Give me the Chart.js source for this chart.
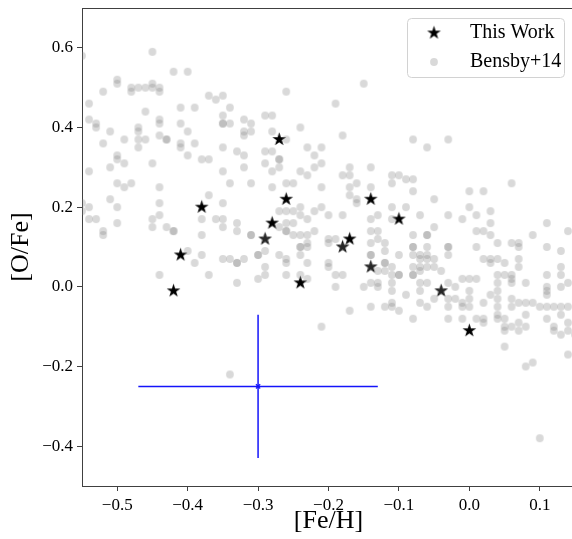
<!DOCTYPE html>
<html>
<head>
<meta charset="utf-8">
<script src="https://cdn.jsdelivr.net/npm/chart.js@4.4.1/dist/chart.umd.min.js"></script>
<style>
html, body { margin: 0; padding: 0; background: #fff; overflow: hidden; }
#wrap { width: 575px; height: 539px; }
</style>
</head>
<body>
<div id="wrap"><canvas id="c"></canvas></div>
<script>
// axis limits and tick labels
const feRange = [-0.55, 0.15];
const oRange = [-0.5, 0.7];
const feTicks = [-0.5, -0.4, -0.3, -0.2, -0.1, 0.0, 0.1];
const oTicks = [-0.4, -0.2, 0.0, 0.2, 0.4, 0.6];

// "This Work" stars
const thisWorkFe = [-0.42, -0.41, -0.38, -0.29, -0.28, -0.27, -0.26, -0.24, -0.18, -0.17, -0.14, -0.14, -0.10, -0.04, 0.00];
const thisWorkO  = [-0.01, 0.08, 0.20, 0.12, 0.16, 0.37, 0.22, 0.01, 0.10, 0.12, 0.22, 0.05, 0.17, -0.01, -0.11];

// typical error bar
const errFe = -0.30, errO = -0.25;
const errFeSigma = 0.17, errOSigma = 0.18;

// Bensby+14 sample, [Fe/H, O/Fe]
const bensbyFeO = [
  [-0.55,0.58],[-0.45,0.59],[-0.42,0.54],[-0.40,0.54],[-0.50,0.52],[-0.50,0.51],[-0.52,0.49],[-0.48,0.50],[-0.48,0.49],[-0.47,0.50],
  [-0.46,0.50],[-0.45,0.51],[-0.45,0.50],[-0.44,0.50],[-0.44,0.49],[-0.37,0.48],[-0.36,0.47],[-0.35,0.48],[-0.54,0.46],[-0.46,0.44],
  [-0.41,0.45],[-0.39,0.45],[-0.34,0.45],[-0.35,0.43],[-0.35,0.41],[-0.35,0.41],[-0.34,0.41],[-0.32,0.42],[-0.32,0.39],[-0.32,0.38],
  [-0.54,0.42],[-0.53,0.41],[-0.53,0.40],[-0.51,0.39],[-0.47,0.40],[-0.47,0.39],[-0.44,0.42],[-0.44,0.41],[-0.41,0.41],[-0.40,0.39],
  [-0.44,0.38],[-0.43,0.37],[-0.43,0.37],[-0.52,0.36],[-0.49,0.37],[-0.47,0.37],[-0.46,0.37],[-0.47,0.35],[-0.41,0.36],[-0.41,0.35],
  [-0.39,0.36],[-0.40,0.33],[-0.38,0.32],[-0.37,0.32],[-0.35,0.35],[-0.33,0.34],[-0.32,0.33],[-0.50,0.33],[-0.50,0.32],[-0.49,0.31],
  [-0.51,0.30],[-0.45,0.31],[-0.54,0.29],[-0.35,0.29],[-0.32,0.30],[-0.34,0.26],[-0.50,0.26],[-0.49,0.25],[-0.48,0.26],[-0.44,0.25],
  [-0.37,0.23],[-0.51,0.22],[-0.31,0.26],
  [-0.55,0.21],[-0.54,0.20],[-0.55,0.19],[-0.50,0.20],[-0.54,0.17],[-0.53,0.17],[-0.50,0.16],[-0.52,0.14],[-0.52,0.13],[-0.44,0.21],
  [-0.44,0.18],[-0.45,0.17],[-0.45,0.15],[-0.43,0.15],[-0.42,0.14],[-0.42,0.14],[-0.35,0.21],[-0.38,0.17],[-0.36,0.17],[-0.35,0.17],
  [-0.35,0.15],[-0.33,0.16],[-0.33,0.14],[-0.31,0.13],[-0.31,0.13],[-0.38,0.13],[-0.40,0.09],[-0.38,0.08],[-0.39,0.06],[-0.35,0.07],
  [-0.34,0.07],[-0.33,0.06],[-0.33,0.06],[-0.32,0.07],[-0.44,0.03],[-0.37,0.03],[-0.33,0.01],
  [-0.26,0.49],[-0.15,0.51],[-0.19,0.46],[-0.29,0.43],[-0.28,0.43],[-0.31,0.41],[-0.31,0.39],[-0.24,0.40],[-0.28,0.39],[-0.26,0.37],
  [-0.18,0.38],[-0.08,0.37],[-0.23,0.35],[-0.21,0.35],[-0.29,0.34],[-0.28,0.34],[-0.22,0.33],[-0.27,0.32],[-0.27,0.32],[-0.29,0.31],
  [-0.27,0.30],[-0.28,0.29],[-0.24,0.29],[-0.23,0.28],[-0.22,0.30],[-0.21,0.31],[-0.17,0.30],[-0.14,0.30],[-0.18,0.28],[-0.17,0.28],
  [-0.28,0.25],[-0.26,0.26],[-0.25,0.26],[-0.21,0.25],[-0.17,0.25],[-0.16,0.26],[-0.14,0.25],[-0.17,0.23],[-0.11,0.28],[-0.10,0.28],
  [-0.09,0.27],[-0.11,0.26],[-0.08,0.27],[-0.16,0.22],
  [-0.06,0.35],[-0.03,0.37],[-0.08,0.24],[-0.05,0.22],[0.00,0.24],[0.02,0.24],[0.06,0.26],
  [-0.27,0.19],[-0.26,0.19],[-0.25,0.19],[-0.24,0.20],[-0.24,0.18],[-0.23,0.17],[-0.22,0.19],[-0.21,0.20],[-0.20,0.18],[-0.18,0.18],
  [-0.16,0.21],[-0.14,0.17],[-0.13,0.18],[-0.11,0.20],[-0.09,0.20],[-0.11,0.17],[-0.27,0.15],[-0.26,0.16],[-0.25,0.16],[-0.26,0.14],
  [-0.26,0.14],[-0.25,0.13],[-0.24,0.13],[-0.23,0.13],[-0.22,0.14],[-0.24,0.10],[-0.24,0.10],[-0.23,0.11],[-0.23,0.10],[-0.24,0.08],
  [-0.20,0.12],[-0.20,0.11],[-0.19,0.12],[-0.29,0.09],[-0.30,0.08],[-0.30,0.08],[-0.29,0.05],[-0.29,0.03],[-0.30,0.02],[-0.27,0.08],
  [-0.26,0.07],[-0.26,0.06],[-0.23,0.06],[-0.26,0.03],[-0.24,0.03],[-0.23,0.02],[-0.20,0.06],[-0.20,0.05],[-0.19,0.03],[-0.18,0.03],
  [-0.19,0.00],[-0.14,0.14],[-0.13,0.14],[-0.13,0.12],[-0.12,0.11],[-0.14,0.11],[-0.14,0.08],[-0.14,0.08],[-0.12,0.09],[-0.13,0.04],
  [-0.12,0.06],[-0.12,0.06],[-0.11,0.05],[-0.10,0.03],[-0.10,0.03],[-0.11,0.03],[-0.11,0.01],[-0.12,0.04],[-0.10,0.08],[-0.15,0.00],
  [-0.14,0.01],[-0.13,0.00],[-0.13,0.01],[-0.11,-0.01],[-0.09,-0.02],[-0.17,-0.06],[-0.14,-0.05],[-0.12,-0.05],[-0.11,-0.04],[-0.11,-0.05],
  [-0.10,-0.06],[-0.21,-0.10],
  [-0.29,0.12],[-0.18,0.10],[-0.14,0.05],[-0.04,-0.01],
  [0.00,0.20],[0.03,0.19],[0.01,0.18],[0.03,0.16],[-0.01,0.17],[-0.07,0.18],[-0.03,0.18],[-0.05,0.15],[0.11,0.16],[0.14,0.14],
  [0.01,0.14],[0.02,0.14],[0.03,0.13],[0.09,0.13],[-0.08,0.13],[-0.06,0.13],[-0.06,0.13],[-0.08,0.10],[-0.08,0.10],[-0.06,0.10],
  [-0.03,0.10],[-0.03,0.10],[-0.03,0.08],[0.01,0.10],[0.04,0.11],[0.06,0.11],[0.07,0.11],[0.07,0.10],[0.11,0.10],[0.13,0.09],
  [-0.08,0.08],[-0.07,0.08],[-0.06,0.08],[-0.06,0.07],[-0.05,0.07],[-0.07,0.07],[-0.08,0.05],[-0.07,0.05],[-0.06,0.05],[-0.05,0.05],
  [-0.04,0.04],[-0.07,0.04],[0.02,0.07],[0.03,0.07],[0.04,0.07],[0.03,0.06],[0.05,0.06],[0.07,0.07],[0.07,0.05],[0.13,0.05],
  [0.13,0.03],[-0.08,0.03],[-0.08,0.03],[-0.07,0.01],[-0.07,-0.01],[-0.06,0.01],[-0.03,0.01],[-0.02,0.00],[-0.01,0.02],[0.00,0.02],
  [0.01,0.02],[0.04,0.03],[0.05,0.03],[0.06,0.03],[0.06,0.02],[0.06,0.01],[0.04,0.01],[0.08,0.01],[0.11,0.03],[0.13,0.00],
  [0.11,0.00],[0.11,-0.01],[0.11,-0.02],[0.14,0.01],[-0.07,-0.04],[-0.06,-0.05],[-0.05,-0.03],[-0.03,-0.03],[-0.03,-0.05],[-0.02,-0.03],
  [-0.01,-0.04],[-0.01,-0.05],[0.00,-0.03],[0.00,-0.05],[0.00,-0.01],[0.02,-0.04],[0.03,-0.02],[0.04,-0.01],[0.04,-0.03],[0.04,-0.05],
  [0.06,-0.03],[0.06,-0.05],[0.07,-0.04],[0.08,-0.04],[0.09,-0.04],[0.10,-0.05],[0.11,-0.05],[0.12,-0.05],[0.13,-0.05],[0.14,-0.05],
  [-0.08,-0.08],[-0.03,-0.08],[-0.01,-0.08],[0.01,-0.08],[0.02,-0.08],[0.02,-0.09],[0.04,-0.07],[0.04,-0.08],[0.05,-0.08],[0.05,-0.10],
  [0.05,-0.11],[0.06,-0.10],[0.07,-0.09],[0.07,-0.11],[0.08,-0.07],[0.08,-0.10],[0.11,-0.08],[0.12,-0.10],[0.12,-0.11],[0.13,-0.07],
  [0.14,-0.09],[0.14,-0.11],[0.13,-0.12],[0.15,-0.12],[0.05,-0.15],[0.14,-0.17],[0.10,-0.38],[0.08,-0.20],[0.09,-0.19],[-0.34,-0.22]
];

// marker sprites
function makeStar(R, color) {
  const size = Math.ceil(R * 2) + 2;
  const c = document.createElement('canvas');
  c.width = c.height = size;
  const g = c.getContext('2d');
  const cx = size / 2, cy = size / 2, r = R * 0.382;
  g.beginPath();
  for (let i = 0; i < 10; i++) {
    const a = -Math.PI / 2 + i * Math.PI / 5;
    const rr = i % 2 ? r : R;
    g.lineTo(cx + rr * Math.cos(a), cy + rr * Math.sin(a));
  }
  g.closePath();
  g.fillStyle = color;
  g.fill();
  return c;
}
function makeDot(r, color) {
  const size = 10;
  const c = document.createElement('canvas');
  c.width = c.height = size;
  const g = c.getContext('2d');
  g.beginPath();
  g.arc(size / 2, size / 2, r, 0, Math.PI * 2);
  g.fillStyle = color;
  g.fill();
  return c;
}
const starImg = makeStar(7.2, '#000');
const dotImg = makeDot(3.9, 'rgba(128,128,128,0.3)');

const ink = '#404040';
const blue = 'rgb(20,20,250)';
Chart.defaults.font.family = "'Liberation Serif', 'Times New Roman', serif";
Chart.defaults.color = '#000';

const fmt = v => (v < 0 ? '\u2212' : '') + Math.abs(v).toFixed(1);

// no extra room around the plot for edge tick labels
const noPad = s => { s.paddingTop = 0; s.paddingBottom = 0; s.paddingLeft = 0; s.paddingRight = 0; };

// put the legend at top right of the plot and frame it
const legendFrame = {
  id: 'legendFrame',
  afterLayout(chart) {
    const lg = chart.legend, a = chart.chartArea;
    if (!lg) return;
    lg.left = a.right - 176;
    lg.right = lg.left + lg.width;
    lg.top = a.top + 6;
    lg.bottom = a.bottom;
  },
  afterDraw(chart) {
    const lg = chart.legend;
    const ctx = chart.ctx;
    ctx.save();
    ctx.strokeStyle = '#d2d2d2';
    ctx.lineWidth = 1;
    ctx.beginPath();
    ctx.roundRect(lg.left + 8.5, lg.top + 4.5, 157, 59, 4);
    ctx.stroke();
    ctx.restore();
  }
};

new Chart(document.getElementById('c'), {
  type: 'scatter',
  data: {
    datasets: [
      {
        label: 'This Work',
        data: thisWorkFe.map((x, i) => ({x: x, y: thisWorkO[i]})),
        pointStyle: starImg,
        pointRadius: 7,
        order: 2
      },
      {
        label: 'Bensby+14',
        data: bensbyFeO.map(p => ({x: p[0], y: p[1]})),
        pointStyle: dotImg,
        pointRadius: 4,
        clip: 0,
        order: 1
      },
      {
        label: 'errFe',
        data: [{x: errFe - errFeSigma, y: errO}, {x: errFe + errFeSigma, y: errO}],
        showLine: true,
        borderColor: blue,
        borderWidth: 1.5,
        pointRadius: 0,
        order: 0
      },
      {
        label: 'errO',
        data: [{x: errFe, y: errO - errOSigma}, {x: errFe, y: errO + errOSigma}],
        showLine: true,
        borderColor: blue,
        borderWidth: 1.5,
        pointRadius: 0,
        order: 0
      },
      {
        label: 'errCentre',
        data: [{x: errFe, y: errO}],
        pointStyle: 'crossRot',
        pointRadius: 3,
        borderColor: blue,
        backgroundColor: blue,
        borderWidth: 1.2,
        order: 0
      }
    ]
  },
  options: {
    responsive: true,
    maintainAspectRatio: false,
    animation: false,
    events: [],
    layout: { autoPadding: false, padding: { top: 8, left: 0, right: 0, bottom: 0 } },
    scales: {
      x: {
        type: 'linear',
        position: 'bottom',
        min: feRange[0],
        max: feRange[1],
        afterBuildTicks: s => { s.ticks = feTicks.map(v => ({value: v})); },
        afterFit: s => { s.height = 53; noPad(s); },
        ticks: { callback: fmt, font: { size: 17 }, padding: 4, color: '#000', maxRotation: 0, autoSkip: false },
        grid: { drawOnChartArea: false, drawTicks: true, tickLength: 5, color: ink },
        border: { display: true, color: ink, width: 1 },
        title: { display: true, text: '[Fe/H]', font: { size: 26 }, color: '#000', padding: { top: 0, bottom: 2 } }
      },
      y: {
        type: 'linear',
        position: 'left',
        min: oRange[0],
        max: oRange[1],
        afterBuildTicks: s => { s.ticks = oTicks.map(v => ({value: v})); },
        afterFit: s => { s.width = 82; noPad(s); },
        ticks: { callback: fmt, font: { size: 17 }, padding: 4, color: '#000', autoSkip: false },
        grid: { drawOnChartArea: false, drawTicks: true, tickLength: 5, color: ink },
        border: { display: true, color: ink, width: 1 },
        title: { display: true, text: '[O/Fe]', font: { size: 26 }, color: '#000', padding: { top: 6, bottom: 0 } }
      },
      xTop: {
        type: 'linear',
        position: 'top',
        min: feRange[0],
        max: feRange[1],
        afterFit: s => { s.height = 0; noPad(s); },
        ticks: { display: false },
        grid: { display: false, drawTicks: false },
        border: { display: true, color: ink, width: 1 }
      }
    },
    plugins: {
      legend: {
        position: 'chartArea',
        align: 'start',
        labels: {
          usePointStyle: true,
          pointStyleWidth: 52,
          padding: 9,
          font: { size: 20 },
          color: '#000',
          filter: it => it.datasetIndex < 2,
          sort: (a, b) => a.datasetIndex - b.datasetIndex
        }
      },
      tooltip: { enabled: false }
    }
  },
  plugins: [legendFrame]
});
</script>
</body>
</html>
